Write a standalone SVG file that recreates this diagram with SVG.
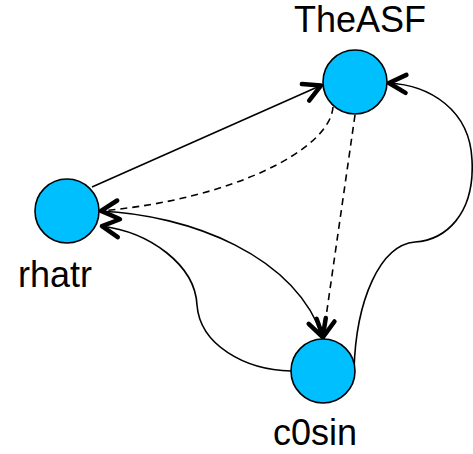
<svg xmlns="http://www.w3.org/2000/svg" width="473" height="454" viewBox="0 0 473 454">
<style>
.node{fill:#00BFFF;stroke:#000;stroke-width:1.6}
.lbl{font-family:"Liberation Sans",Arial,sans-serif;font-size:36px;fill:#000;text-anchor:middle}
.e{fill:none;stroke:#000;stroke-width:1.6}
.d{stroke-dasharray:7,5}
</style>
<defs>
<marker id="ah" markerUnits="userSpaceOnUse" refX="0" refY="0" markerWidth="30" markerHeight="30" orient="auto" overflow="visible">
<path d="M-18,-9 L-1,0 L-18,9" fill="none" stroke="#000" stroke-width="4.5" stroke-linecap="round" stroke-linejoin="round" stroke-dasharray="none"/>
</marker>
</defs>
<rect width="473" height="454" fill="#fff"/>
<g id="connectors">
<path class="e" d="M92,187 L322,85" marker-end="url(#ah)"/>
<path class="e d" d="M333,107 C330,150 230,200 100,211" marker-end="url(#ah)"/>
<path class="e d" d="M355,115 L323,338" marker-end="url(#ah)"/>
<path class="e" d="M100,211 C190,215 295,255 323,338" marker-end="url(#ah)"/>
<path class="e" d="M291,371 C245,370 200,345 197,305 C195,265 150,232 101,226" marker-end="url(#ah)"/>
<path class="e" d="M354,370 C356,300 380,245 415,242 C445,240 475,215 472,160 C470,110 430,85 388,83" marker-end="url(#ah)"/>
</g>
<g id="TheASF">
<circle class="node" cx="355" cy="82" r="32"/>
<text class="lbl" x="360" y="32">TheASF</text>
</g>
<g id="rhatr">
<circle class="node" cx="67" cy="211" r="32"/>
<text class="lbl" x="55" y="287">rhatr</text>
</g>
<g id="c0sin">
<circle class="node" cx="323" cy="371" r="32"/>
<text class="lbl" x="315" y="445">c0sin</text>
</g>
</svg>
